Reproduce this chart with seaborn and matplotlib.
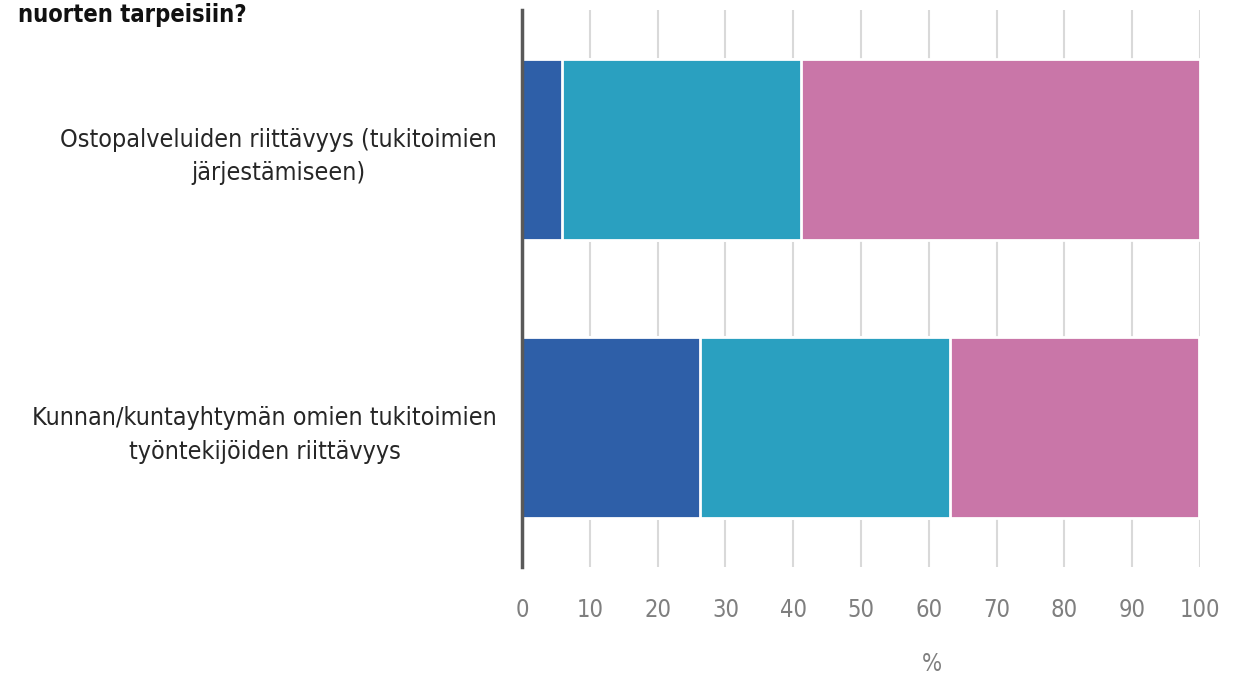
import pandas as pd
import seaborn as sns
import matplotlib.pyplot as plt

categories = ["Ostopalveluiden riittävyys (tukitoimien\njärjestämiseen)",
              "Kunnan/kuntayhtymän omien tukitoimien\ntyöntekijöiden riittävyys"]
segment_names = ["osa1", "osa2", "osa3"]
values_row1 = [5.9, 35.3, 58.8]
values_row2 = [26.3, 36.8, 36.8]
colors = ["#2E5FA8", "#2AA0C0", "#C976A8"]
ticks = list(range(0, 101, 10))
title = "nuorten tarpeisiin?"

sns.set_style("white")
plt.rcParams['font.family'] = ['DejaVu Sans']
plt.rcParams['font.stretch'] = 'condensed'

# cumulative ends so the segments stack from the left
rows = []
for cat, vals in zip(categories, [values_row1, values_row2]):
    total = 0
    for name, v in zip(segment_names, vals):
        total += v
        rows.append({"kategoria": cat, "osa": name, "cum": total})
df = pd.DataFrame(rows)

fig = plt.figure(figsize=(12.53, 6.75), dpi=100)
ax = fig.add_axes([0.4166, 0.16, 0.5411, 0.825])

# draw largest first so the shorter pieces sit on top
for name, col in reversed(list(zip(segment_names, colors))):
    sub = df[df["osa"] == name]
    sns.barplot(data=sub, x="cum", y="kategoria", orient="h", color=col,
                saturation=1, width=0.65, edgecolor="white", linewidth=2,
                ax=ax, zorder=3)

ax.set_xlim(0, 100)
ax.set_xticks(ticks)
ax.set_xticklabels([str(t) for t in ticks])
ax.grid(axis="x", color="#D9D9D9", linewidth=1.5, zorder=0)
ax.grid(axis="y", visible=False)
ax.set_axisbelow(True)

for side in ["top", "right", "bottom"]:
    ax.spines[side].set_visible(False)
ax.spines["left"].set_color("#595959")
ax.spines["left"].set_linewidth(2.5)
ax.spines["left"].set_zorder(5)

ax.tick_params(axis="x", length=0, pad=22, labelsize=17, labelcolor="#7F7F7F")
ax.tick_params(axis="y", length=0, pad=18, labelsize=18, labelcolor="#262626")
for lab in ax.get_yticklabels():
    lab.set_multialignment("center")
    lab.set_linespacing(1.5)

ax.set_ylabel("")
ax.set_xlabel("%", fontsize=17, color="#7F7F7F")
ax.xaxis.set_label_coords(0.605, -0.152)

fig.text(0.014, 0.968, title, fontsize=17, fontweight="bold", color="#111111",
         va="baseline", ha="left")

plt.savefig("out.png", dpi=100)
